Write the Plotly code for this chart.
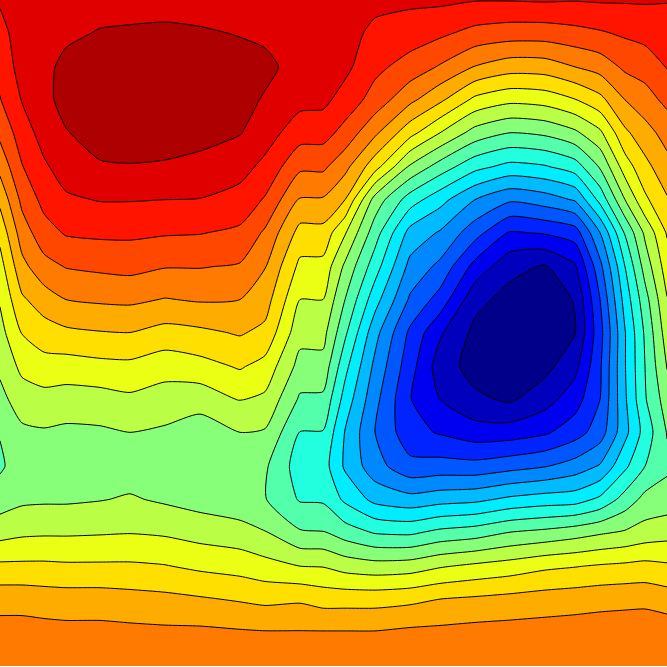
import plotly.graph_objects as go

x_grid = [0, 22, 44, 66, 100, 130, 165, 200, 240, 265, 300, 323, 345, 375, 410, 440, 475, 510, 545, 575, 600, 625, 645, 667]
y_grid = [0, 33, 67, 100, 133, 167, 200, 233, 267, 300, 333, 367, 400, 433, 467, 500, 533, 567, 600, 633, 667]

c000 = [18.1,17.7,17.33,16.95,16.25,15.3,14.25,13.3,12.6,12.1,11.65,11.2,10.7,10.05,9.85,10.5,11.6,13.2,14.6,15.4,15.8]
c022 = [18.5,18.45,18.4,18.05,17.5,16.95,16.25,15.5,14.7,13.85,13.05,12.25,11.5,10.8,10.5,10.8,11.8,13.2,14.6,15.4,15.8]
c044 = [18.7,18.75,18.8,18.75,18.4,17.85,17.3,16.6,15.65,14.5,13.55,12.6,11.65,10.9,10.7,10.85,11.85,13.2,14.5,15.35,15.8]
c066 = [18.9,18.85,19.2,19.3,18.95,18.45,17.85,17.1,16.05,15.0,13.8,12.55,11.55,10.8,10.7,10.85,11.85,13.15,14.45,15.3,15.8]
c100 = [18.7,19.05,19.5,19.6,19.4,18.9,18.05,17.2,16.2,15.15,13.95,12.7,11.6,10.85,10.7,10.95,11.9,13.15,14.45,15.3,15.8]
c130 = [18.7,19.1,19.55,19.7,19.45,18.95,18.05,17.2,16.3,15.2,14.0,12.75,11.8,11.0,10.5,11.1,11.95,13.15,14.35,15.25,15.8]
c165 = [18.7,19.15,19.6,19.7,19.4,18.9,18.0,17.1,16.05,14.95,13.65,12.4,11.55,10.85,10.5,10.85,11.85,13.05,14.25,15.2,15.7]
c200 = [18.6,19.1,19.55,19.65,19.35,18.7,17.97,17.05,16.05,15.1,13.8,12.65,11.4,10.5,10.3,10.6,11.6,12.8,14.1,15.2,15.7]
c240 = [18.5,18.95,19.35,19.35,19.05,18.35,17.65,16.8,15.9,15.0,14.1,13.1,12.05,11.0,10.2,10.3,11.4,12.6,13.9,15.1,15.7]
c265 = [18.3,18.8,19.25,18.9,18.45,17.75,16.9,15.85,15.05,14.45,13.75,12.65,11.8,10.9,10.15,10.05,11.05,12.35,13.75,15.05,15.7]
c300 = [18.2,18.5,18.6,18.3,17.45,16.2,14.9,13.65,12.75,12.0,11.35,10.65,9.85,8.97,8.5,8.9,10.1,12.0,13.85,15.05,15.7]
c323 = [18.2,18.5,18.6,18.25,17.4,16.2,14.9,13.65,12.7,12.0,11.35,10.65,9.8,8.95,8.45,8.85,10.05,11.95,13.6,15.05,15.7]
c345 = [18.2,18.4,18.25,17.6,16.65,15.3,14.0,12.1,10.8,10.0,9.2,8.3,7.6,6.95,6.85,7.8,9.5,11.6,13.6,15.05,15.7]
c375 = [18.3,17.75,17.25,16.6,15.2,13.4,10.6,9.45,8.45,7.4,6.35,5.75,5.3,5.0,5.4,6.7,8.9,11.4,13.6,15.05,15.7]
c410 = [18.2,17.5,16.6,15.25,13.35,10.85,8.5,6.65,5.7,4.85,3.8,3.4,3.05,3.35,4.3,6.35,8.8,11.5,13.75,15.2,15.7]
c440 = [18.2,17.2,15.9,14.2,12.0,9.55,7.35,5.9,4.75,3.6,2.15,1.5,2.0,2.9,4.4,6.6,9.25,11.9,14.0,15.25,15.75]
c475 = [18.05,16.7,14.95,12.75,10.6,8.3,6.0,4.4,2.65,1.3,0.75,0.6,1.2,2.45,4.35,6.75,9.5,12.2,14.15,15.35,15.8]
c510 = [18.05,16.5,14.45,12.25,10.0,7.7,5.15,2.9,1.3,0.65,0.4,0.45,0.85,2.5,4.65,7.2,10.0,12.45,14.3,15.4,15.8]
c545 = [18.1,16.5,14.5,12.4,10.2,7.9,5.5,3.1,0.9,0.55,0.4,0.7,1.6,2.85,4.95,7.45,10.25,12.8,14.45,15.45,15.8]
c575 = [18.05,16.7,15.0,12.95,10.8,8.5,6.1,3.5,1.85,1.05,0.95,1.7,2.55,3.55,5.45,7.55,10.55,12.95,14.55,15.5,15.85]
c600 = [18.1,16.9,15.4,13.7,11.8,10.1,8.3,6.0,4.7,4.0,3.65,3.85,4.0,4.5,6.1,8.2,10.85,13.1,14.65,15.55,15.85]
c625 = [18.1,17.15,16.2,15.0,13.8,12.5,11.0,9.1,8.0,7.4,6.95,6.95,6.85,6.7,7.8,9.4,11.1,13.2,14.7,15.6,15.85]
c645 = [18.1,17.35,16.4,15.6,14.6,13.7,12.8,11.2,10.4,9.6,9.15,9.0,8.9,8.4,9.0,10.3,11.4,13.3,14.7,15.7,15.9]
c667 = [18.05,17.55,17.05,16.25,15.4,14.65,13.9,13.1,12.5,11.95,11.5,11.05,10.5,10.05,9.8,10.45,11.6,13.15,14.5,15.6,15.9]

columns = [c000,c022,c044,c066,c100,c130,c165,c200,c240,c265,c300,c323,c345,c375,c410,c440,c475,c510,c545,c575,c600,c625,c645,c667]
z_rows = [list(r) for r in zip(*columns)]

band_colors = ["#00008a","#0000bd","#0000f0","#0023ff","#0056ff","#0089ff","#00bbff","#00edff","#21ffde","#54ffab",
               "#87ff78","#baff45","#ebff14","#ffdf00","#ffac00","#ff7a00","#ff4700","#ff1400","#e00000","#ae0000"]
tick_positions = [66.7,133.4,200.1,266.8,333.5,400.2,466.9,533.6,600.3]

n = len(band_colors)
colorscale = []
for i, c in enumerate(band_colors):
    colorscale.append([i/n, c])
    colorscale.append([(i+1)/n, c])

fig = go.Figure(go.Contour(
    x=x_grid, y=y_grid, z=z_rows,
    zmin=0, zmax=n, colorscale=colorscale, showscale=False,
    autocontour=False,
    contours=dict(start=1, end=n-1, size=1, coloring="fill", showlines=True),
    line=dict(color="black", width=1, smoothing=0.6),
    hoverinfo="skip",
))
fig.update_layout(
    width=667, height=667, margin=dict(l=0, r=0, t=0, b=1),
    paper_bgcolor="white", plot_bgcolor="white", showlegend=False,
    xaxis=dict(range=[0,667], showgrid=False, zeroline=False, showline=False, ticks="outside", ticklen=1,
               tickwidth=1, tickcolor="black", tickvals=tick_positions, showticklabels=False),
    yaxis=dict(range=[667,0], showgrid=False, zeroline=False, showline=False, ticks="", showticklabels=False),
)
fig.write_html("out.html", config=dict(displayModeBar=False),
               post_script="document.body.style.margin='0';document.documentElement.style.overflow='hidden';")
